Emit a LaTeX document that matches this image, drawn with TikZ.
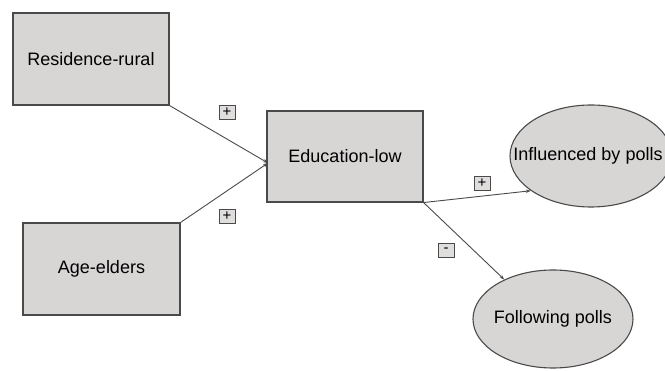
\documentclass[tikz,border=0pt]{standalone}
\usepackage{fontspec}
\setmainfont{Liberation Sans}
\usetikzlibrary{shapes.geometric,arrows.meta}
\definecolor{boxfill}{HTML}{D8D5D5}
\definecolor{edge}{HTML}{4A4A4A}
\tikzset{
  factor/.style={draw=edge, line width=1.1pt, fill=boxfill, inner sep=0pt, font=\fontsize{18}{20}\selectfont},
  oval/.style={ellipse, draw=edge, line width=1.1pt, fill=boxfill, inner sep=0pt},
  ovaltext/.style={font=\fontsize{18}{20}\selectfont},
  sign/.style={draw=edge, line width=0.8pt, fill=boxfill!80, minimum width=16pt, minimum height=14pt, inner sep=0pt, font=\fontsize{15}{15}\selectfont},
  link/.style={draw=edge, line width=0.9pt, -{Stealth[length=5pt,width=3.5pt]}}
}
\begin{document}
\begin{tikzpicture}[x=1pt,y=-1pt]
\useasboundingbox (0,0) rectangle (665,371);
\node[factor, minimum width=156pt, minimum height=92pt] (res) at (91,59) {Residence-rural};
\node[factor, minimum width=157pt, minimum height=92pt] (age) at (101.5,269) {Age-elders};
\node[factor, minimum width=156pt, minimum height=91pt] (edu) at (345,156.5) {Education-low};
\node[oval, minimum width=162pt, minimum height=102pt, label={[ovaltext, xshift=-3pt]center:Influenced by polls}] (infl) at (591,156) {};
\node[oval, minimum width=160pt, minimum height=98pt, label={[ovaltext]center:Following polls}] (foll) at (553,319) {};
\coordinate (ein) at (268,163);
\draw[link] (res.south east) -- (ein);
\draw[link] (age.north east) -- (ein);
\draw[link] (edu.south east) -- (infl.210);
\draw[link] (edu.south east) -- (foll.141);
\node[sign] (s1) at (227,112) {+};
\node[sign] (s2) at (227,216) {+};
\node[sign] (s3) at (482,183) {+};
\node[sign] (s4) at (446,250) {-};
\end{tikzpicture}
\end{document}
